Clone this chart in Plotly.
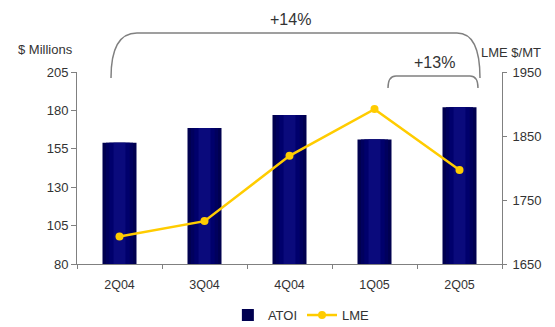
import plotly.graph_objects as go

# Quarterly ATOI ($ millions) and LME aluminum price ($/MT)
quarters = ["2Q04", "3Q04", "4Q04", "1Q05", "2Q05"]
atoi = [159, 168.5, 177, 161, 182]
lme = [1693, 1717, 1819, 1892, 1797]
left_ticks = [80, 105, 130, 155, 180, 205]
right_ticks = [1650, 1750, 1850, 1950]

FONT = "Liberation Sans, Arial, sans-serif"
GRAY = "#808080"
TEXT = "#333333"

fig = go.Figure()

# Bars drawn as nested layers so the centre reads slightly lighter than the edges
layers = [(0.40, "#000050"), (0.32, "#00005e"), (0.24, "#00006c"), (0.14, "#0a0a7c")]
for i, (w, c) in enumerate(layers):
    fig.add_trace(go.Bar(
        x=quarters, y=atoi, width=w, marker=dict(color=c, line=dict(width=0)),
        name="ATOI", showlegend=(i == 0), legendgroup="atoi",
        hoverinfo="skip" if i else None,
    ))

fig.add_trace(go.Scatter(
    x=quarters, y=lme, yaxis="y2", name="LME", mode="lines+markers",
    line=dict(color="#FFCC00", width=2.5),
    marker=dict(color="#FFCC00", size=8),
))

# Brackets for the growth call-outs
big = ("M 0.08,0.969 Q 0.08,1.203 0.141,1.203 L 0.894,1.203 "
       "Q 0.9482,1.203 0.9482,0.969")
small = ("M 0.7318,0.9167 Q 0.7318,0.979 0.7506,0.979 L 0.9247,0.979 "
         "Q 0.9435,0.979 0.9435,0.9167")
shapes = [dict(type="path", path=p, xref="paper", yref="paper",
               line=dict(color=GRAY, width=1.5)) for p in (big, small)]

ann_font = dict(family=FONT, size=16, color=TEXT)
title_font = dict(family=FONT, size=13, color=TEXT)
annotations = [
    dict(text="+14%", x=0.5035, y=1.271, xref="paper", yref="paper",
         showarrow=False, font=ann_font, xanchor="center", yanchor="middle"),
    dict(text="+13%", x=0.842, y=1.052, xref="paper", yref="paper",
         showarrow=False, font=ann_font, xanchor="center", yanchor="middle"),
    dict(text="$ Millions", x=-0.005, y=1.115, xref="paper", yref="paper",
         showarrow=False, font=title_font, xanchor="right", yanchor="middle"),
    dict(text="LME $/MT", x=0.945, y=1.099, xref="paper", yref="paper",
         showarrow=False, font=title_font, xanchor="left", yanchor="middle"),
]

tick_font = dict(family=FONT, size=13, color=TEXT)

fig.update_layout(
    width=555, height=327, autosize=False,
    margin=dict(l=77, r=53, t=72, b=63, autoexpand=False),
    paper_bgcolor="white", plot_bgcolor="white",
    barmode="overlay",
    shapes=shapes, annotations=annotations,
    font=dict(family=FONT, size=12, color=TEXT),
    xaxis=dict(
        type="category", range=[-0.5, 4.5], showgrid=False, zeroline=False,
        showline=True, linecolor=GRAY, linewidth=1,
        ticks="outside", tickson="boundaries", ticklen=4, tickcolor=GRAY,
        tickfont=dict(family=FONT, size=12.5, color=TEXT),
        ticklabelstandoff=9,
    ),
    yaxis=dict(
        range=[80, 205], tickvals=left_ticks, showgrid=False, zeroline=False,
        showline=True, linecolor=GRAY, linewidth=1,
        ticks="outside", ticklen=5, tickcolor=GRAY, tickfont=tick_font,
    ),
    yaxis2=dict(
        range=[1650, 1950], tickvals=right_ticks, overlaying="y", side="right",
        showgrid=False, zeroline=False, showline=True, linecolor=GRAY, linewidth=1,
        ticks="outside", ticklen=4, tickcolor=GRAY, tickfont=tick_font,
        ticklabelstandoff=3,
    ),
    legend=dict(
        orientation="h", x=0.355, y=-0.266, xanchor="left", yanchor="middle",
        font=dict(family=FONT, size=13, color=TEXT),
        itemwidth=30, tracegroupgap=0, bgcolor="rgba(0,0,0,0)",
    ),
)

fig.write_html("out.html")
